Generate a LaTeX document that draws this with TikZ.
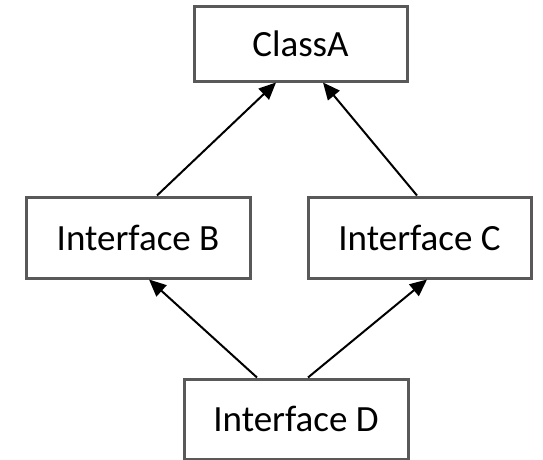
\documentclass[tikz,border=0pt]{standalone}
\usepackage{fontspec}
\setmainfont{Carlito}
\usetikzlibrary{arrows.meta}
\definecolor{boxgray}{HTML}{595959}
\begin{document}
\begin{tikzpicture}[x=1pt,y=-1pt,
  cls/.style={draw=boxgray,line width=3pt,fill=white,inner sep=0pt,font=\fontsize{37}{41}\selectfont},
  inh/.style={line width=2pt,-{Triangle[length=17pt,width=15pt]}}]
\useasboundingbox (0,0) rectangle (543,460);
\node[cls,minimum width=213pt,minimum height=74pt] (A) at (300.5,44) {ClassA};
\node[cls,minimum width=224pt,minimum height=81pt] (B) at (138,237.5) {Interface B};
\node[cls,minimum width=223pt,minimum height=81pt] (C) at (419.5,237.5) {Interface C};
\node[cls,minimum width=224pt,minimum height=80pt] (D) at (296,419) {Interface D};
\draw[inh] ([xshift=19pt]B.north) -- ([xshift=-24.5pt]A.south);
\draw[inh] ([xshift=-2.5pt]C.north) -- ([xshift=22.5pt]A.south);
\draw[inh] ([xshift=-39pt]D.north) -- ([xshift=11pt]B.south);
\draw[inh] ([xshift=12pt]D.north) -- ([xshift=7.5pt]C.south);
\end{tikzpicture}
\end{document}
